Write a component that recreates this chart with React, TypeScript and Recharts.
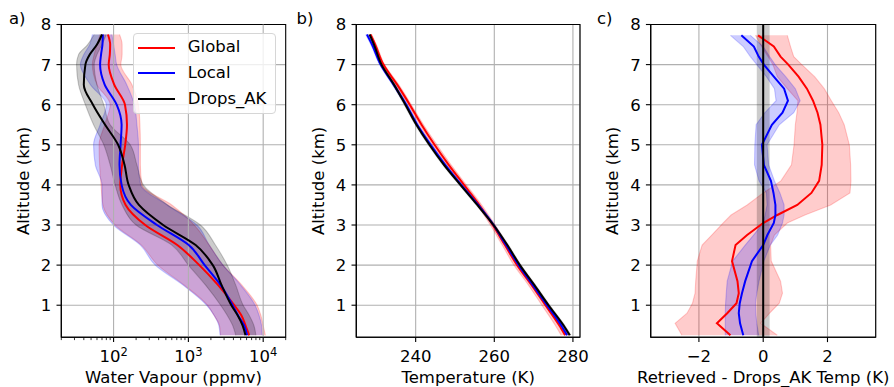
import React from 'react';
import {
  ComposedChart,
  Line,
  Area,
  XAxis,
  YAxis,
  CartesianGrid,
  ReferenceLine,
  ReferenceArea,
  Legend,
} from 'recharts';

const FONT = '"DejaVu Sans", Verdana, sans-serif';
const FS = 16.5;
const GRID = '#b0b0b0';

// a) water vapour (ppmv) against altitude (km)
const altA = [0.25, 0.5, 0.75, 1, 1.5, 2, 2.5, 3, 3.5, 4, 4.5, 5, 5.5, 6, 6.5, 7, 7.25, 7.5, 7.75];
const wvGlobal = [6500, 5800, 5100, 4100, 2500, 1400, 710, 265, 145, 123, 130, 143, 151, 142, 102, 86, 89, 90, 84];
const wvGlobalLo = [2700, 2600, 2200, 1800, 880, 390, 235, 105, 72, 68, 65, 64, 76, 90, 60, 52, 55, 60, 66];
const wvGlobalHi = [10700, 10000, 9300, 8300, 5200, 2900, 1900, 1200, 600, 240, 228, 228, 225, 215, 176, 125, 130, 130, 120];
const wvLocal = [6100, 5550, 4600, 3900, 2700, 1650, 1010, 380, 170, 128, 120, 124, 128, 110, 76, 66, 68, 71, 72];
const wvLocalLo = [2650, 2550, 2200, 1750, 850, 360, 228, 100, 70, 70, 57, 54, 66, 80, 49, 36, 40, 48, 52];
const wvLocalHi = [9700, 9500, 8800, 7800, 5000, 2900, 1900, 1300, 520, 230, 215, 215, 205, 190, 150, 110, 105, 100, 95];
const wvDrops = [5800, 5300, 4550, 3750, 2780, 2120, 1250, 460, 218, 159, 140, 115, 77, 53, 40, 42, 48, 60, 70];
const wvDropsLo = [4300, 3900, 3300, 2700, 1700, 1000, 600, 200, 130, 105, 90, 74, 54, 42, 34, 32, 34, 45, 55];
const wvDropsHi = [8000, 7500, 6500, 5400, 4300, 3300, 2300, 1450, 530, 250, 205, 167, 90, 74, 60, 55, 60, 70, 80];
const wvMajor = [100, 1000, 10000];
const wvTicks = [20, 30, 40, 50, 60, 70, 80, 90, 100, 200, 300, 400, 500, 600, 700, 800, 900, 1000,
  2000, 3000, 4000, 5000, 6000, 7000, 8000, 9000, 10000, 20000];

// b) temperature (K)
const altB = [0.25, 0.5, 1, 1.5, 2, 2.5, 3, 3.5, 4, 4.5, 5, 5.5, 6, 6.5, 7, 7.5, 7.75];
const tGlobal = [278.0, 276.5, 273.0, 269.5, 265.8, 262.7, 259.6, 256.2, 252.3, 248.4, 244.8, 241.5, 238.5, 235.3, 231.8, 229.7, 228.5];
const tGlobalLo = [277.0, 275.5, 272.1, 268.7, 265.0, 262.0, 259.0, 255.6, 251.7, 247.8, 244.2, 241.0, 238.1, 234.9, 231.5, 229.4, 228.2];
const tGlobalHi = [279.0, 277.5, 273.9, 270.3, 266.6, 263.4, 260.2, 256.8, 252.9, 249.0, 245.4, 242.0, 238.9, 235.7, 232.1, 230.0, 228.8];
const tLocal = [278.5, 277.0, 273.4, 269.8, 266.2, 263.0, 259.8, 255.9, 251.6, 247.5, 243.8, 240.4, 237.6, 234.4, 231.1, 228.9, 227.6];
const tLocalLo = [278.2, 276.7, 273.1, 269.5, 265.9, 262.7, 259.5, 255.6, 251.3, 247.2, 243.5, 240.1, 237.3, 234.1, 230.8, 228.6, 227.3];
const tLocalHi = [278.8, 277.3, 273.7, 270.1, 266.5, 263.3, 260.1, 256.2, 251.9, 247.8, 244.1, 240.7, 237.9, 234.7, 231.4, 229.2, 227.9];
const tDrops = [279.2, 277.6, 273.8, 270.2, 266.5, 263.3, 259.8, 255.7, 251.4, 247.2, 243.5, 240.2, 237.4, 234.5, 231.3, 229.4, 228.3];
const tDropsLo = [278.9, 277.3, 273.5, 269.9, 266.2, 263.0, 259.5, 255.4, 251.1, 246.9, 243.2, 239.9, 237.1, 234.2, 231.0, 229.1, 228.0];
const tDropsHi = [279.5, 277.9, 274.1, 270.5, 266.8, 263.6, 260.1, 256.0, 251.7, 247.5, 243.8, 240.5, 237.7, 234.8, 231.6, 229.7, 228.6];
const tTicks = [240, 260, 280];

// c) retrieved minus dropsonde temperature (K)
const altC = [0.25, 0.55, 0.8, 1.05, 1.3, 1.6, 2.1, 2.5, 2.75, 3.05, 3.25, 3.5, 3.8, 4.1, 4.5, 5.0, 5.5, 5.8, 6.1, 6.4, 6.7, 7.0, 7.2, 7.45, 7.73];
const dGlobal = [-1.02, -1.44, -1.12, -0.83, -0.76, -0.8, -0.97, -0.86, -0.5, 0.0, 0.44, 1.06, 1.5, 1.74, 1.82, 1.84, 1.78, 1.69, 1.55, 1.36, 1.1, 0.78, 0.54, 0.33, -0.16];
const dGlobalLo = [-2.53, -2.74, -2.37, -2.2, -2.12, -2.1, -2.05, -1.9, -1.6, -1.25, -1.0, -0.5, 0.0, 0.55, 0.88, 0.96, 1.0, 1.05, 1.08, 0.75, 0.44, 0.3, 0.15, -0.05, -0.24];
const dGlobalHi = [0.44, -0.08, 0.2, 0.5, 0.6, 0.54, 0.25, 0.23, 0.35, 0.75, 1.3, 2.1, 2.7, 2.73, 2.72, 2.68, 2.52, 2.35, 2.12, 1.9, 1.6, 1.2, 0.95, 0.85, 0.75];
const dLocal = [-0.62, -0.72, -0.76, -0.73, -0.66, -0.56, -0.35, 0.0, 0.13, 0.33, 0.38, 0.38, 0.32, 0.24, 0.02, -0.04, 0.27, 0.6, 0.77, 0.65, 0.33, 0.02, -0.14, -0.29, -0.68];
const dLocalLo = [-1.18, -1.18, -1.18, -1.17, -1.15, -1.12, -0.95, -0.56, -0.3, 0.0, 0.06, 0.12, 0.1, -0.13, -0.27, -0.26, -0.22, 0.05, 0.4, 0.35, 0.1, -0.2, -0.4, -0.62, -1.02];
const dLocalHi = [-0.14, -0.2, -0.23, -0.24, -0.2, -0.13, 0.02, 0.22, 0.45, 0.6, 0.65, 0.65, 0.52, 0.35, 0.17, 0.12, 0.5, 0.95, 1.15, 1.0, 0.7, 0.37, 0.2, 0.0, -0.4];
const dDropsLine = 0;
const dDropsBand = [-0.2, 0.2];
const dTicks = [-2, 0, 2];

const altTicks = [1, 2, 3, 4, 5, 6, 7, 8];
const legendOrder = ['Global', 'Local', 'Drops_AK'];

const dataA = altA.map((alt, i) => ({
  alt,
  global: wvGlobal[i],
  globalBand: [wvGlobalLo[i], wvGlobalHi[i]],
  local: wvLocal[i],
  localBand: [wvLocalLo[i], wvLocalHi[i]],
  drops: wvDrops[i],
  dropsBand: [wvDropsLo[i], wvDropsHi[i]],
}));

const dataB = altB.map((alt, i) => ({
  alt,
  global: tGlobal[i],
  globalBand: [tGlobalLo[i], tGlobalHi[i]],
  local: tLocal[i],
  localBand: [tLocalLo[i], tLocalHi[i]],
  drops: tDrops[i],
  dropsBand: [tDropsLo[i], tDropsHi[i]],
}));

const dataC = altC.map((alt, i) => ({
  alt,
  global: dGlobal[i],
  globalBand: [dGlobalLo[i], dGlobalHi[i]],
  local: dLocal[i],
  localBand: [dLocalLo[i], dLocalHi[i]],
}));

// axes are 1px wide/high (0 would stop recharts drawing them), so margins are 1px less
const MARGIN_TOP = 24.5;
const MARGIN_BOTTOM = 48.7;

function YTick({ x, y, payload }: any) {
  return (
    <g>
      <line x1={x - 4.8} y1={y} x2={x} y2={y} stroke="#000" strokeWidth={1.1} />
      <text x={x - 10} y={y} dy="0.36em" textAnchor="end" fontSize={FS} fill="#000">
        {payload.value}
      </text>
    </g>
  );
}

function XTick({ x, y, payload }: any) {
  const v = payload.value;
  const label = v < 0 ? `\u2212${Math.abs(v)}` : `${v}`;
  return (
    <g>
      <line x1={x} y1={y} x2={x} y2={y + 4.8} stroke="#000" strokeWidth={1.1} />
      <text x={x} y={y + 24.7} textAnchor="middle" fontSize={FS} fill="#000">
        {label}
      </text>
    </g>
  );
}

function LogTick({ x, y, payload }: any) {
  const v = payload.value;
  if (!wvMajor.includes(v)) {
    return <line x1={x} y1={y} x2={x} y2={y + 2.8} stroke="#000" strokeWidth={0.8} />;
  }
  return (
    <g>
      <line x1={x} y1={y} x2={x} y2={y + 4.8} stroke="#000" strokeWidth={1.1} />
      <text x={x} y={y + 24.7} textAnchor="middle" fontSize={FS} fill="#000">
        <tspan>10</tspan>
        <tspan dy={-6.5} fontSize={11.5}>{Math.round(Math.log10(v))}</tspan>
      </text>
    </g>
  );
}

const yTitle = (props: any) => {
  const { x, y, width, height } = props.viewBox;
  const cx = x + width - 32.3;
  const cy = y + height / 2;
  return (
    <text x={cx} y={cy} transform={`rotate(-90, ${cx}, ${cy})`} textAnchor="middle" fontSize={FS} fill="#000">
      Altitude (km)
    </text>
  );
};

const xTitle = (text: string) => (props: any) => {
  const { x, y, width } = props.viewBox;
  return (
    <text x={x + width / 2} y={y + 45.8} textAnchor="middle" fontSize={FS} fill="#000">
      {text}
    </text>
  );
};

function LegendBox({ payload }: any) {
  const items = legendOrder
    .map((name) => (payload || []).find((p: any) => p.value === name))
    .filter(Boolean);
  return (
    <div
      style={{
        width: 143.3,
        height: 81,
        boxSizing: 'border-box',
        border: '1px solid #d6d6d6',
        borderRadius: 4,
        background: 'rgba(255,255,255,0.8)',
        padding: '0.5px 0 0 4.6px',
      }}
    >
      {items.map((p: any) => (
        <div key={p.value} style={{ display: 'flex', alignItems: 'center', height: 25.8 }}>
          <svg width={37} height={4} style={{ display: 'block' }}>
            <line x1={0} y1={2} x2={37} y2={2} stroke={p.color} strokeWidth={2.2} />
          </svg>
          <span style={{ marginLeft: 12.5, fontSize: FS, lineHeight: 1 }}>{p.value}</span>
        </div>
      ))}
    </div>
  );
}

function WaterVapourChart() {
  return (
    <ComposedChart layout="vertical" width={300} height={387} data={dataA}
      margin={{ top: MARGIN_TOP, right: 14.3, bottom: MARGIN_BOTTOM, left: 60.3 }}>
      <XAxis type="number" dataKey="global" scale="log" domain={[20, 20000]} ticks={wvTicks} interval={0}
        allowDataOverflow height={1} tickSize={0} tickMargin={0} tick={<LogTick />}
        axisLine={{ stroke: '#000', strokeWidth: 1.1 }} label={xTitle('Water Vapour (ppmv)')} />
      <YAxis type="number" dataKey="alt" reversed domain={[0.2, 8]} ticks={altTicks} interval={0} allowDataOverflow
        width={1} tickSize={0} tickMargin={0} tick={<YTick />}
        axisLine={{ stroke: '#000', strokeWidth: 1.1 }} label={yTitle} />
      <Area type="monotone" dataKey="globalBand" fill="#ff0000" fillOpacity={0.2} stroke="#ff0000" strokeOpacity={0.2}
        strokeWidth={1.1} legendType="none" isAnimationActive={false} activeDot={false} />
      <Area type="monotone" dataKey="localBand" fill="#0000ff" fillOpacity={0.2} stroke="#0000ff" strokeOpacity={0.2}
        strokeWidth={1.1} legendType="none" isAnimationActive={false} activeDot={false} />
      <Area type="monotone" dataKey="dropsBand" fill="#000000" fillOpacity={0.2} stroke="#000000" strokeOpacity={0.2}
        strokeWidth={1.1} legendType="none" isAnimationActive={false} activeDot={false} />
      <CartesianGrid vertical={false} stroke={GRID} strokeWidth={1.1} />
      {wvMajor.map((v) => (
        <ReferenceLine key={v} x={v} stroke={GRID} strokeWidth={1.1} />
      ))}
      <Line type="monotone" dataKey="global" name="Global" stroke="#ff0000" strokeWidth={2} dot={false}
        activeDot={false} isAnimationActive={false} />
      <Line type="monotone" dataKey="local" name="Local" stroke="#0000ff" strokeWidth={2} dot={false}
        activeDot={false} isAnimationActive={false} />
      <Line type="monotone" dataKey="drops" name="Drops_AK" stroke="#000000" strokeWidth={2} dot={false}
        activeDot={false} isAnimationActive={false} />
      <ReferenceArea x1={20} x2={20000} y1={0.2} y2={8} fill="none" stroke="#000" strokeWidth={1.1}
        ifOverflow="visible" />
      <Legend layout="vertical" align="center" verticalAlign="middle" content={<LegendBox />}
        wrapperStyle={{ left: 132.7, top: 33.3, width: 143.3, height: 81 }} />
    </ComposedChart>
  );
}

function TemperatureChart() {
  return (
    <ComposedChart layout="vertical" width={300} height={387} data={dataB}
      margin={{ top: MARGIN_TOP, right: 15, bottom: MARGIN_BOTTOM, left: 60.3 }}>
      <XAxis type="number" dataKey="global" domain={[224.9, 281.8]} ticks={tTicks} interval={0}
        allowDataOverflow height={1} tickSize={0} tickMargin={0} tick={<XTick />}
        axisLine={{ stroke: '#000', strokeWidth: 1.1 }} label={xTitle('Temperature (K)')} />
      <YAxis type="number" dataKey="alt" reversed domain={[0.2, 8]} ticks={altTicks} interval={0} allowDataOverflow
        width={1} tickSize={0} tickMargin={0} tick={<YTick />}
        axisLine={{ stroke: '#000', strokeWidth: 1.1 }} label={yTitle} />
      <Area type="monotone" dataKey="globalBand" fill="#ff0000" fillOpacity={0.2} stroke="#ff0000" strokeOpacity={0.2}
        strokeWidth={1.1} isAnimationActive={false} activeDot={false} />
      <Area type="monotone" dataKey="localBand" fill="#0000ff" fillOpacity={0.2} stroke="#0000ff" strokeOpacity={0.2}
        strokeWidth={1.1} isAnimationActive={false} activeDot={false} />
      <Area type="monotone" dataKey="dropsBand" fill="#000000" fillOpacity={0.2} stroke="#000000" strokeOpacity={0.2}
        strokeWidth={1.1} isAnimationActive={false} activeDot={false} />
      <CartesianGrid stroke={GRID} strokeWidth={1.1} />
      <Line type="monotone" dataKey="global" stroke="#ff0000" strokeWidth={2} dot={false}
        activeDot={false} isAnimationActive={false} />
      <Line type="monotone" dataKey="local" stroke="#0000ff" strokeWidth={2} dot={false}
        activeDot={false} isAnimationActive={false} />
      <Line type="monotone" dataKey="drops" stroke="#000000" strokeWidth={2} dot={false}
        activeDot={false} isAnimationActive={false} />
      <ReferenceArea x1={224.9} x2={281.8} y1={0.2} y2={8} fill="none" stroke="#000" strokeWidth={1.1}
        ifOverflow="visible" />
    </ComposedChart>
  );
}

function DifferenceChart() {
  return (
    <ComposedChart layout="vertical" width={304} height={387} data={dataC}
      margin={{ top: MARGIN_TOP, right: 18.3, bottom: MARGIN_BOTTOM, left: 59.7 }}>
      <XAxis type="number" dataKey="global" domain={[-3.5, 3.5]} ticks={dTicks} interval={0}
        allowDataOverflow height={1} tickSize={0} tickMargin={0} tick={<XTick />}
        axisLine={{ stroke: '#000', strokeWidth: 1.1 }} label={xTitle('Retrieved - Drops_AK Temp (K)')} />
      <YAxis type="number" dataKey="alt" reversed domain={[0.2, 8]} ticks={altTicks} interval={0} allowDataOverflow
        width={1} tickSize={0} tickMargin={0} tick={<YTick />}
        axisLine={{ stroke: '#000', strokeWidth: 1.1 }} label={yTitle} />
      <Area type="linear" dataKey="globalBand" fill="#ff0000" fillOpacity={0.2} stroke="#ff0000" strokeOpacity={0.2}
        strokeWidth={1.1} isAnimationActive={false} activeDot={false} />
      <Area type="linear" dataKey="localBand" fill="#0000ff" fillOpacity={0.2} stroke="#0000ff" strokeOpacity={0.2}
        strokeWidth={1.1} isAnimationActive={false} activeDot={false} />
      <ReferenceArea x1={dDropsBand[0]} x2={dDropsBand[1]} y1={0.2} y2={8} fill="#000" fillOpacity={0.2}
        stroke="none" />
      <CartesianGrid stroke={GRID} strokeWidth={1.1} />
      <Line type="linear" dataKey="global" stroke="#ff0000" strokeWidth={2} dot={false}
        activeDot={false} isAnimationActive={false} />
      <Line type="linear" dataKey="local" stroke="#0000ff" strokeWidth={2} dot={false}
        activeDot={false} isAnimationActive={false} />
      <ReferenceLine x={dDropsLine} stroke="#000" strokeWidth={2} />
      <ReferenceArea x1={-3.5} x2={3.5} y1={0.2} y2={8} fill="none" stroke="#000" strokeWidth={1.1}
        ifOverflow="visible" />
    </ComposedChart>
  );
}

function PanelLetter({ left, text }: { left: number; text: string }) {
  return (
    <span style={{ position: 'absolute', left, top: 11, fontSize: FS, lineHeight: 1 }}>{text}</span>
  );
}

export default function App() {
  return (
    <div
      style={{
        position: 'absolute',
        left: 0,
        top: 0,
        width: 894,
        height: 387,
        overflow: 'hidden',
        background: '#fff',
        fontFamily: FONT,
        color: '#000',
      }}
    >
      <div style={{ position: 'absolute', left: 0, top: 0 }}>
        <WaterVapourChart />
      </div>
      <div style={{ position: 'absolute', left: 295, top: 0 }}>
        <TemperatureChart />
      </div>
      <div style={{ position: 'absolute', left: 590, top: 0 }}>
        <DifferenceChart />
      </div>
      <PanelLetter left={9} text="a)" />
      <PanelLetter left={296.5} text="b)" />
      <PanelLetter left={597} text="c)" />
    </div>
  );
}
